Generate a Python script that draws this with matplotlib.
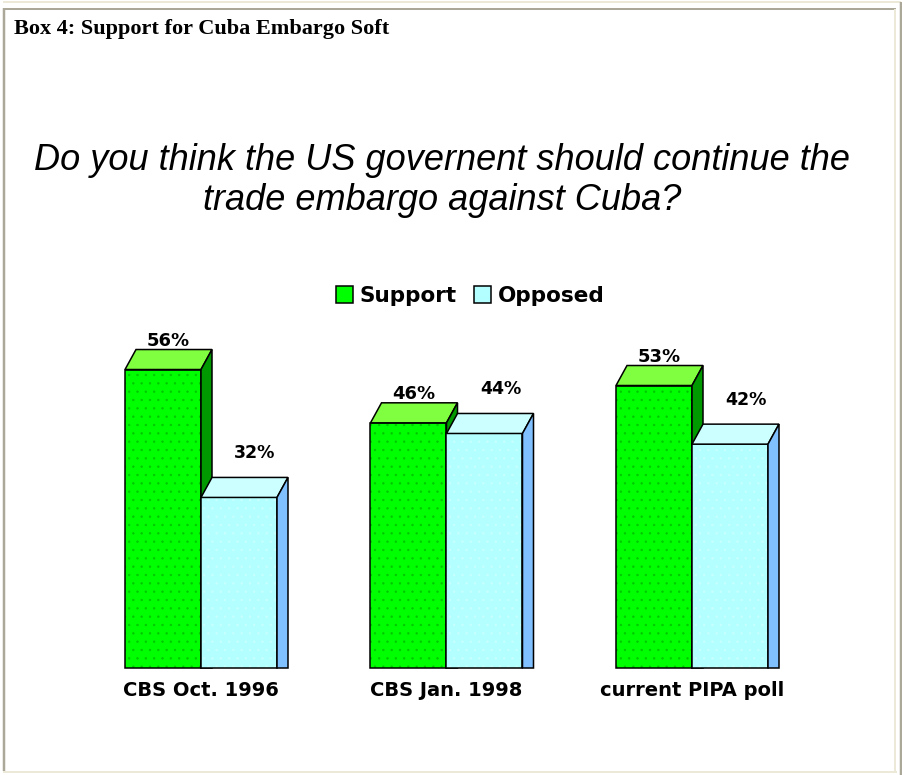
import matplotlib
matplotlib.use("Agg")
import matplotlib.pyplot as plt
from matplotlib.patches import Polygon, Rectangle, Patch
from matplotlib.lines import Line2D

W, H = 903, 775

polls = ["CBS Oct. 1996", "CBS Jan. 1998", "current PIPA poll"]
support = [56, 46, 53]
opposed = [32, 44, 42]

fig = plt.figure(figsize=(W / 100, H / 100), dpi=100)
fig.patch.set_facecolor("white")


def fx(px):
    return px / W


def fy(py):
    return 1 - py / H


# page frame (html table borders)
beige = "#ece9d8"
grey = "#aca899"
for (x0, y0, x1, y1, c, lw) in [
    (3, 2, 901, 2, beige, 2),
    (901, 2, 901, 775, grey, 2.5),
    (3, 8.5, 896, 8.5, grey, 2),
    (4, 8, 4, 771, grey, 2.5),
    (895.5, 9, 895.5, 771, beige, 2),
    (3, 771.5, 897, 771.5, beige, 2),
]:
    fig.add_artist(Line2D([fx(x0), fx(x1)], [fy(y0), fy(y1)], color=c,
                          lw=lw * 0.72, solid_capstyle="butt"))

fig.text(fx(14), fy(29), "Box 4: Support for Cuba Embargo Soft",
         family="Liberation Serif", weight="bold", fontsize=16, va="center")

fig.text(fx(442), fy(160), "Do you think the US governent should continue the",
         family="Liberation Sans", style="italic", fontsize=26,
         ha="center", va="center")
fig.text(fx(442), fy(200), "trade embargo against Cuba?",
         family="Liberation Sans", style="italic", fontsize=26,
         ha="center", va="center")

# chart area: one group per poll, 245.5 px apart, 5.33 px per percent
gap = 245.5
ppp = 5.33
ax = fig.add_axes([fx(201 - 0.5 * gap), fy(668), 3 * gap / W, 60 * ppp / H])
ax.set_xlim(-0.5, 2.5)
ax.set_ylim(0, 60)
ax.axis("off")

bar_w = 76 / gap
dx = 11 / gap
dy = 20 / ppp

sup_cols = ("#00ff00", "#80ff40", "#009a00", "#00c800")
opp_cols = ("#b3ffff", "#ccffff", "#80c0ff", "#c8ffff")


def bar3d(x0, h, cols):
    front, top, side, dots = cols
    x1 = x0 + bar_w
    ax.add_patch(Rectangle((x0, 0), bar_w, h, facecolor=front, lw=0,
                           clip_on=False))
    ax.add_patch(Rectangle((x0, 0), bar_w, h, facecolor="none",
                           edgecolor=dots, lw=0, hatch="..", clip_on=False))
    ax.add_patch(Rectangle((x0, 0), bar_w, h, facecolor="none",
                           edgecolor="black", lw=1.1, clip_on=False))
    ax.add_patch(Polygon([(x0, h), (x0 + dx, h + dy), (x1 + dx, h + dy), (x1, h)],
                         facecolor=top, edgecolor="black", lw=1.1,
                         clip_on=False))
    ax.add_patch(Polygon([(x1, 0), (x1 + dx, 0), (x1 + dx, h + dy), (x1, h)],
                         facecolor=side, edgecolor="black", lw=1.1,
                         clip_on=False))


plt.rcParams["hatch.linewidth"] = 0.5

for i, (s, o) in enumerate(zip(support, opposed)):
    left = i - bar_w
    bar3d(left, s, sup_cols)
    bar3d(i, o, opp_cols)
    ax.text(left + bar_w / 2 + 5 / gap, s + 20 / ppp, f"{s}%",
            ha="center", va="bottom", fontsize=13, weight="bold",
            family="DejaVu Sans", clip_on=False)
    ax.text(i + bar_w / 2 + 16 / gap, o + 35 / ppp, f"{o}%",
            ha="center", va="bottom", fontsize=12.5, weight="bold",
            family="DejaVu Sans", clip_on=False)
    ax.text(i, -22 / ppp, polls[i], ha="center", va="center", fontsize=14,
            weight="bold", family="DejaVu Sans", clip_on=False)

handles = [Patch(facecolor=sup_cols[0], edgecolor="black", lw=1.1),
           Patch(facecolor=opp_cols[0], edgecolor="black", lw=1.1)]
fig.legend(handles, ["Support", "Opposed"], loc="center",
           bbox_to_anchor=(fx(470), fy(296)), ncol=2, frameon=False,
           handlelength=0.8, handleheight=0.8, handletextpad=0.3,
           columnspacing=0.8, prop=dict(family="DejaVu Sans", weight="bold",
                                        size=15.5))

fig.savefig("out.png", dpi=100)
